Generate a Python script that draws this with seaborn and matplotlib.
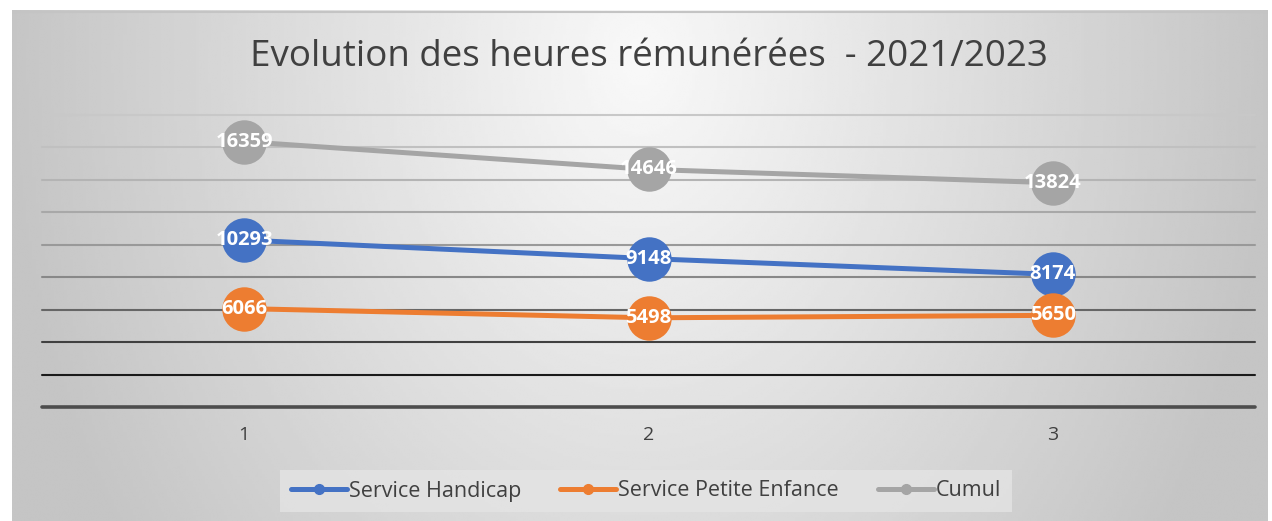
import numpy as np
import pandas as pd
import seaborn as sns
import matplotlib
matplotlib.use("Agg")
import matplotlib.pyplot as plt
from matplotlib.lines import Line2D

W, H = 1272, 521

periods = [1, 2, 3]
handicap = [10293, 9148, 8174]
petite_enfance = [6066, 5498, 5650]
cumul = [16359, 14646, 13824]
series_names = ["Service Handicap", "Service Petite Enfance", "Cumul"]
colors = ["#4472C4", "#ED7D31", "#A5A5A5"]
grid_values = [2000, 4000, 6000, 8000, 10000, 12000, 14000, 16000, 18000]
grid_shades = ["#1a1a1a", "#404040", "#666666", "#888888", "#999999",
               "#a8a8a8", "#b4b4b4", "#c0c0c0", "#c8c8c8"]

df = pd.DataFrame({
    "periode": periods * 3,
    "heures": handicap + petite_enfance + cumul,
    "serie": [s for s in series_names for _ in periods],
})

sns.set_theme(style="white")
plt.rcParams["font.family"] = ["Open Sans", "DejaVu Sans"]

fig = plt.figure(figsize=(W / 100, H / 100), dpi=100)
fig.patch.set_facecolor("white")

# gradient background of the chart area
bg = fig.add_axes([12 / W, 0, (1268 - 12) / W, (H - 10) / H], zorder=0)
gx, gy = np.meshgrid(np.linspace(0, 1, 400), np.linspace(0, 1, 200))
dist = np.sqrt(((gx - 0.5) / 0.62) ** 2 + ((gy - 0.1) / 2.0) ** 2)
shade = np.clip(0.975 - 0.25 * dist, 0.77, 0.975)
bg.imshow(shade, cmap="gray", vmin=0, vmax=1, aspect="auto",
          extent=[0, 1, 1, 0], interpolation="bilinear")
bg.set_xlim(0, 1)
bg.set_ylim(1, 0)
bg.axis("off")
bg.axhline(0.004, color="#c4c4c4", linewidth=1.5)

ax = fig.add_axes([42 / W, (H - 407) / H, (1255 - 42) / W, (407 - 115) / H], zorder=1)
ax.set_facecolor("none")

for val, shade_col in zip(grid_values, grid_shades):
    ax.axhline(val, color=shade_col, linewidth=1.5, zorder=1, clip_on=False)
ax.axhline(0, color="#4d4d4d", linewidth=2.6, zorder=1, clip_on=False)

sns.lineplot(data=df, x="periode", y="heures", hue="serie",
             hue_order=series_names, palette=dict(zip(series_names, colors)),
             marker="o", markersize=32, markeredgewidth=0, linewidth=3.6,
             legend=False, ax=ax, zorder=3)
for line in ax.lines[-3:]:
    line.set_markersize(32)

for name, vals in zip(series_names, [handicap, petite_enfance, cumul]):
    for x, v in zip(periods, vals):
        ax.text(x, v, str(v), ha="center", va="center", color="white",
                fontsize=14.5, fontweight="bold", zorder=5)

ax.set_xlim(0.5, 3.5)
ax.set_ylim(0, 18000)
ax.set_xticks(periods)
ax.set_xticklabels([str(p) for p in periods], color="#404040", fontsize=14)
ax.set_yticks([])
ax.tick_params(axis="x", length=0, pad=14)
ax.set_xlabel("")
ax.set_ylabel("")
for sp in ax.spines.values():
    sp.set_visible(False)

fig.text(649 / W, (H - 57) / H, "Evolution des heures rémunérées  - 2021/2023",
         ha="center", va="center", fontsize=26.5, color="#404040")

handles = [Line2D([0], [0], color=c, linewidth=3.6, marker="o", markersize=7)
           for c in colors]
fig.legend(handles, series_names, loc="center", bbox_to_anchor=(646 / W, (H - 491) / H),
           ncol=3, frameon=True, facecolor="#e4e4e4", edgecolor="none",
           fontsize=15.5, handlelength=2.6, handletextpad=0.1, columnspacing=1.8,
           labelcolor="#404040", fancybox=False, borderpad=0.5)

fig.savefig("out.png", dpi=100)
